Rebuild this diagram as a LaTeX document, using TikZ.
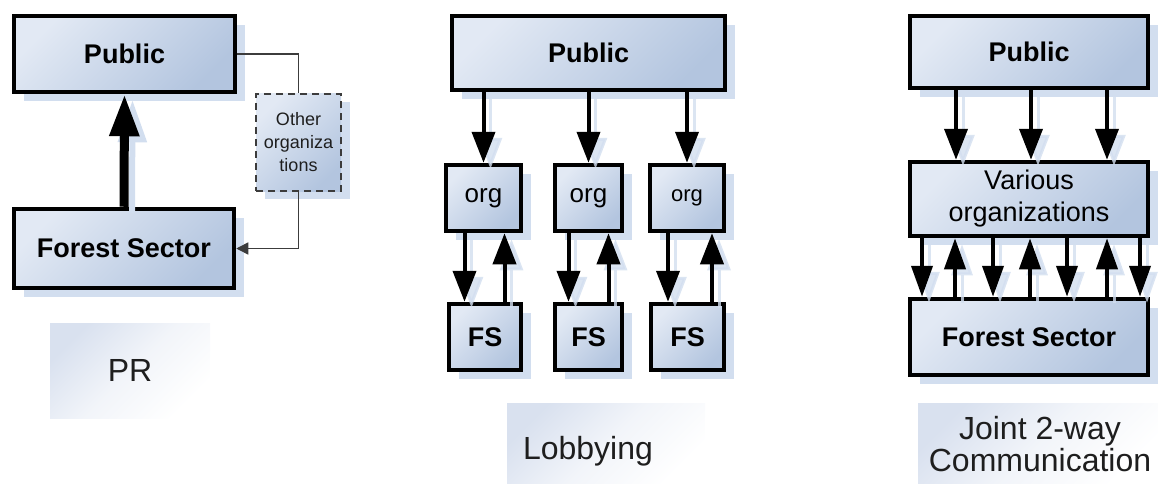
\documentclass[tikz,border=0pt]{standalone}
\usepackage{fontspec}
\setmainfont{Liberation Sans}
\usetikzlibrary{arrows.meta,shadows,calc}

\definecolor{boxlight}{HTML}{E2E9F4}
\definecolor{boxdark}{HTML}{B3C5DF}
\definecolor{shadowblue}{HTML}{D2DEEF}
\definecolor{labelblue}{HTML}{D9E1EF}
\definecolor{linegray}{HTML}{3C3C3C}
\definecolor{textgray}{HTML}{1E1E1E}

% shading angle 45: the top colour sits in the upper left corner
\tikzset{
  panelbox/.style={draw=black, line width=4.5pt, top color=boxlight, bottom color=boxdark,
    shading angle=45, inner sep=0pt,
    drop shadow={shadow xshift=10pt, shadow yshift=-9pt, fill=shadowblue, opacity=1}},
  boldtext/.style={font=\fontsize{27}{30}\selectfont\bfseries},
  plaintext/.style={font=\fontsize{26}{30}\selectfont},
  dashbox/.style={draw=linegray, line width=2pt, dash pattern=on 7pt off 5pt,
    top color=boxlight, bottom color=boxdark, shading angle=45, inner sep=0pt,
    align=center, text=textgray, font=\fontsize{18}{23}\selectfont,
    drop shadow={shadow xshift=9pt, shadow yshift=-8pt, fill=shadowblue, opacity=1}},
  labelbg/.style={top color=labelblue, bottom color=white, middle color=labelblue!35!white,
    shading angle=45, inner sep=0pt},
  labeltext/.style={text=textgray, font=\fontsize{32}{32}\selectfont, align=center, inner sep=0pt},
  arrshadow/.style={preaction={draw=shadowblue, line width=3pt, opacity=0.8,
    transform canvas={shift={(7pt,-6pt)}}}},
  arr/.style={draw=black, line width=4pt, -{Triangle[length=31pt,width=23pt]}, arrshadow},
  arrsmall/.style={draw=black, line width=4pt, -{Triangle[length=31pt,width=21pt]}, arrshadow},
  bigarr/.style={draw=black, line width=9pt, -{Triangle[length=42pt,width=28pt]},
    preaction={draw=shadowblue, line width=6pt, transform canvas={shift={(8pt,-6pt)}}}},
  conn/.style={draw=linegray, line width=1.5pt},
}

\begin{document}
\begin{tikzpicture}[x=1pt,y=-1pt]
\useasboundingbox (0,0) rectangle (1158,484);

% ---------- PR ----------
\node[labelbg, minimum width=160pt, minimum height=95pt] (prbg) at (130,370.5) {};
\node[labeltext] (prlab) at (130,370) {PR};

\node[panelbox, boldtext, minimum width=221pt, minimum height=76pt] (pub1) at (124.5,54) {Public};
\node[panelbox, boldtext, minimum width=220pt, minimum height=79pt] (fs1) at (124,248.5) {Forest Sector};
\node[dashbox, minimum width=85pt, minimum height=97pt] (oth) at (298.5,142.5) {Other\\organiza\\tions};

\draw[bigarr] (fs1.north) -- (pub1.south);
\draw[conn] (pub1.east) -| (oth.north);
\draw[conn, -{Triangle[length=12pt,width=12pt]}] (oth.south) |- (fs1.east);

% ---------- Lobbying ----------
\node[labelbg, minimum width=198pt, minimum height=81pt] (lobbg) at (606,443.5) {};
\node[labeltext] (loblab) at (588,451) {Lobbying};

\node[panelbox, boldtext, minimum width=273pt, minimum height=74pt] (pub2) at (588.5,53) {Public};

\node[panelbox, plaintext, minimum width=75pt, minimum height=66pt] (orgA) at (483.5,198) {org};
\node[panelbox, plaintext, minimum width=67pt, minimum height=66pt] (orgB) at (588.5,198) {org};
\node[panelbox, font=\fontsize{22}{26}\selectfont, minimum width=74pt, minimum height=66pt] (orgC) at (687,198) {org};

\node[panelbox, boldtext, minimum width=72pt, minimum height=66pt] (fsA) at (485,337) {FS};
\node[panelbox, boldtext, minimum width=67pt, minimum height=66pt] (fsB) at (588.5,337) {FS};
\node[panelbox, boldtext, minimum width=73pt, minimum height=66pt] (fsC) at (687.5,337) {FS};

\foreach \o in {orgA,orgB,orgC}
  \draw[arr] (\o.north |- pub2.south) -- (\o.north);

\draw[arr] ([xshift=-19pt]orgA.south) -- ([xshift=-19pt]orgA.south |- fsA.north);
\draw[arr] ([xshift=21pt]orgA.south |- fsA.north) -- ([xshift=21pt]orgA.south);
\draw[arr] ([xshift=-20pt]orgB.south) -- ([xshift=-20pt]orgB.south |- fsB.north);
\draw[arr] ([xshift=20pt]orgB.south |- fsB.north) -- ([xshift=20pt]orgB.south);
\draw[arr] ([xshift=-19pt]orgC.south) -- ([xshift=-19pt]orgC.south |- fsC.north);
\draw[arr] ([xshift=25pt]orgC.south |- fsC.north) -- ([xshift=25pt]orgC.south);

% ---------- Joint 2-way communication ----------
\node[labelbg, minimum width=240pt, minimum height=81pt] (jointbg) at (1038,443.5) {};
\node[labeltext] (jointlab) at (1040,444) {Joint 2-way\\Communication};

\node[panelbox, boldtext, minimum width=238pt, minimum height=72pt] (pub3) at (1029,52) {Public};
\node[panelbox, font=\fontsize{27}{32}\selectfont, align=center, minimum width=238pt, minimum height=74pt] (various) at (1029,199) {Various\\organizations};
\node[panelbox, boldtext, minimum width=238pt, minimum height=76pt] (fs3) at (1029,337) {Forest Sector};

\foreach \dx in {-73,2,78}
  \draw[arr] ([xshift=\dx pt]various.north |- pub3.south) -- ([xshift=\dx pt]various.north);

\foreach \dx in {-107,-36,38,111}
  \draw[arrsmall] ([xshift=\dx pt]various.south) -- ([xshift=\dx pt]various.south |- fs3.north);
\foreach \dx in {-74,1,78}
  \draw[arrsmall] ([xshift=\dx pt]various.south |- fs3.north) -- ([xshift=\dx pt]various.south);
\end{tikzpicture}
\end{document}
